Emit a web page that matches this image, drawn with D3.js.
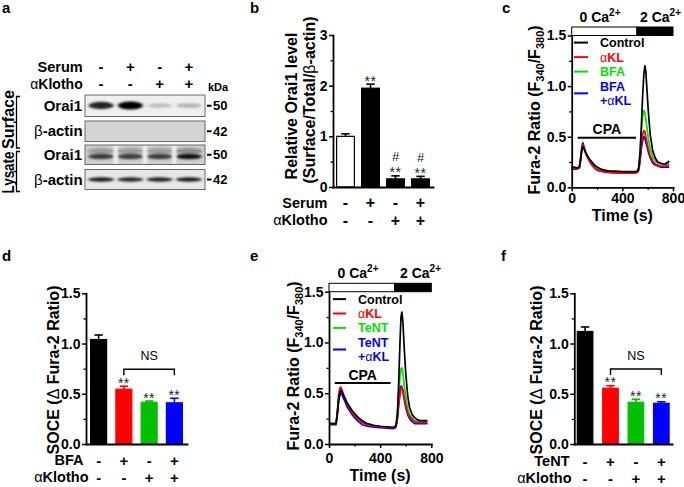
<!DOCTYPE html>
<html><head><meta charset="utf-8">
<script src="https://cdn.jsdelivr.net/npm/d3@7"></script>
<style>
body{margin:0;background:#fff;}
svg{display:block;font-family:"Liberation Sans",Arial,Helvetica,sans-serif;}
</style></head><body>
<svg id="fig" width="684" height="487"></svg>
<script>
// ================= DATA =================
const lanes = ["L1","L2","L3","L4"];
const serumSigns = ["-","+","-","+"];
const klothoSigns = ["-","-","+","+"];
const bfaSigns = ["-","+","-","+"];
const tentSigns = ["-","+","-","+"];
const blotRows = ["Orai1","β-actin","Orai1","β-actin"];
const kdaMarks = ["50","42","50","42"];
const surfaceOrai1Band = [0.85, 1.0, 0.2, 0.25];
const lysateOrai1Band = [0.72, 0.7, 0.7, 0.92];
const lysateActinBand = [0.88, 0.82, 0.85, 0.88];

const bMeans = [1.0, 1.95, 0.16, 0.16];
const bErrs = [0.05, 0.08, 0.06, 0.05];
const bStars = ["", "**", "**", "**"];
const bHash = ["", "", "#", "#"];
const bTicks = [0, 1, 2, 3];
const bMinor = [0.5, 1.5, 2.5];

const socTicks = [0, 0.5, 1.0, 1.5];
const socMinor = [0.25, 0.75, 1.25];
const dMeans = [1.04, 0.545, 0.415, 0.41];
const dErrs = [0.045, 0.03, 0.013, 0.045];
const dStars = ["", "**", "**", "**"];
const fMeans = [1.12, 0.555, 0.415, 0.405];
const fErrs = [0.045, 0.025, 0.03, 0.015];
const fStars = ["", "**", "**", "**"];
const barColors = ["#000000", "#ff0000", "#00c000", "#0000ff"];

const traceTicksY = [0, 0.5, 1.0, 1.5];
const traceMinorY = [0.25, 0.75, 1.25];
const traceTicksX = [0, 400, 800];
const traceMinorX = [200, 600];

const cTime = [0,20,40,60,70,80,88,95,105,120,140,160,180,200,230,260,300,350,400,450,500,520,530,540,550,560,570,578,585,595,605,620,640,660,680,700,720,740,760,770];
const cControl = [0.20,0.20,0.19,0.20,0.27,0.37,0.40,0.39,0.36,0.32,0.28,0.25,0.22,0.20,0.18,0.17,0.16,0.16,0.155,0.155,0.155,0.16,0.2,0.35,0.6,0.9,1.12,1.2,1.15,0.95,0.75,0.52,0.36,0.29,0.25,0.24,0.23,0.23,0.25,0.26];
const cAKL = [0.19,0.19,0.18,0.19,0.27,0.38,0.42,0.40,0.36,0.31,0.26,0.22,0.19,0.17,0.16,0.15,0.145,0.14,0.14,0.14,0.14,0.15,0.18,0.28,0.42,0.52,0.56,0.55,0.50,0.44,0.38,0.31,0.26,0.23,0.22,0.21,0.21,0.21,0.22,0.22];
const cBFA = [0.19,0.19,0.19,0.19,0.26,0.37,0.40,0.39,0.35,0.31,0.27,0.24,0.21,0.19,0.17,0.165,0.155,0.15,0.15,0.15,0.15,0.155,0.2,0.33,0.55,0.7,0.76,0.74,0.68,0.58,0.48,0.38,0.3,0.26,0.24,0.23,0.23,0.23,0.24,0.24];
const cBFAaKL = [0.18,0.18,0.18,0.19,0.28,0.40,0.44,0.41,0.36,0.31,0.26,0.22,0.19,0.17,0.16,0.155,0.15,0.145,0.145,0.145,0.145,0.15,0.17,0.26,0.38,0.46,0.50,0.49,0.45,0.40,0.35,0.29,0.24,0.22,0.21,0.2,0.2,0.2,0.2,0.2];
const cLegend = ["Control", "αKL", "BFA", "BFA|+αKL"];

const eTime = [0,20,40,55,65,75,85,92,100,110,125,140,160,180,200,230,260,300,350,400,450,500,515,525,535,545,555,563,570,578,588,600,615,630,650,670,690,710,730,750,770];
const eControl = [0.2,0.2,0.2,0.2,0.3,0.44,0.51,0.53,0.52,0.49,0.45,0.41,0.37,0.33,0.3,0.26,0.23,0.2,0.185,0.175,0.17,0.165,0.17,0.19,0.3,0.6,1.0,1.25,1.3,1.2,0.95,0.7,0.48,0.36,0.29,0.26,0.24,0.23,0.23,0.23,0.23];
const eAKL = [0.2,0.2,0.2,0.2,0.32,0.48,0.55,0.56,0.54,0.5,0.45,0.4,0.35,0.31,0.28,0.24,0.21,0.19,0.175,0.17,0.165,0.16,0.165,0.18,0.25,0.38,0.48,0.54,0.56,0.53,0.46,0.38,0.31,0.27,0.24,0.22,0.21,0.21,0.21,0.21,0.21];
const eTeNT = [0.2,0.2,0.2,0.2,0.3,0.43,0.5,0.52,0.51,0.48,0.44,0.4,0.36,0.32,0.29,0.25,0.22,0.195,0.18,0.17,0.165,0.16,0.165,0.19,0.3,0.5,0.66,0.74,0.75,0.7,0.58,0.46,0.35,0.29,0.26,0.23,0.22,0.22,0.22,0.22,0.22];
const eTeNTaKL = [0.19,0.19,0.19,0.19,0.28,0.42,0.48,0.5,0.49,0.46,0.42,0.37,0.33,0.29,0.26,0.22,0.19,0.175,0.165,0.16,0.155,0.15,0.155,0.17,0.25,0.4,0.52,0.57,0.56,0.52,0.44,0.36,0.29,0.25,0.22,0.2,0.2,0.2,0.2,0.2,0.2];
const eLegend = ["Control", "αKL", "TeNT", "TeNT|+αKL"];
const traceColors = ["#000000", "#ff0000", "#00e400", "#0000ff"];
const cCPA = [47, 508, 0.49];
const eCPA = [45, 482, 0.6];
const caSwitch = 515;
const caSwitchE = 513;

// ================= DRAWING =================
const FONT = '"Liberation Sans", Arial, Helvetica, sans-serif';
const svg = d3.select("#fig");
svg.append("rect").attr("width",684).attr("height",487).attr("fill","#fff");
const defs = svg.append("defs");
defs.append("filter").attr("id","blur").attr("x","-50%").attr("y","-100%").attr("width","200%").attr("height","300%")
  .append("feGaussianBlur").attr("stdDeviation","1.4 1.0");

function T(g, x, y, s, o = {}) {
  return g.append("text").attr("x", x).attr("y", y).text(s)
    .attr("font-size", o.size || 14).attr("font-weight", o.weight || "bold")
    .attr("text-anchor", o.anchor || "start").attr("fill", o.fill || "#000")
    .attr("font-family", FONT);
}
function alphaText(g, x, y, rest, o = {}) {
  const t = g.append("text").attr("x", x).attr("y", y)
    .attr("font-size", o.size || 14).attr("font-weight", "bold")
    .attr("text-anchor", o.anchor || "start").attr("fill", o.fill || "#000").attr("font-family", FONT);
  if (o.prefix) t.append("tspan").text(o.prefix);
  t.append("tspan").attr("font-weight", "normal").text("α");
  t.append("tspan").text(rest);
  return t;
}
function styleAxis(a, size) {
  a.attr("font-family", FONT).attr("font-size", size);
  a.select(".domain").attr("stroke-width", 1.8).attr("stroke-linecap", "square");
  a.selectAll(".tick line").attr("stroke-width", 1.5);
  a.selectAll(".tick text").attr("font-weight", "bold").attr("fill", "#000").attr("font-size", size);
}
function signRow(g, xs, yb, signs, size) {
  signs.forEach((s, i) => T(g, xs[i], yb + 1, s, { size: size, anchor: "middle" }));
}
const fmt1 = d3.format(".1f");

// panel letters
[["a",2,13],["b",250,13],["c",502,13],["d",2,261],["e",250,261],["f",501,261]]
  .forEach(p => T(svg, p[1], p[2], p[0], { size: 15 }));

// ---------- Panel a: western blot ----------
(function () {
  const g = svg.append("g");
  const x = d3.scaleBand().domain(lanes).range([85, 205]).padding(0.1);
  const lx = i => x(lanes[i]) + x.bandwidth() / 2;
  const xs = lanes.map((l, i) => lx(i));
  T(g, 82.7, 71.7, "Serum", { size: 14.5, anchor: "end" });
  alphaText(g, 82.7, 88.5, "Klotho", { size: 14, anchor: "end" });
  signRow(g, xs, 71, serumSigns, 15);
  signRow(g, xs, 88, klothoSigns, 15);
  T(g, 208, 91, "kDa", { size: 11 });

  const boxes = [
    { y: 95, h: 21.5, fill: "#efefef" },
    { y: 121, h: 20.5, fill: "#d4d4d4" },
    { y: 145, h: 19.5, fill: "#cfcfcf" },
    { y: 169.5, h: 20, fill: "#e6e6e6" }
  ];
  boxes.forEach((b, k) => {
    const cid = "clip" + k;
    defs.append("clipPath").attr("id", cid).append("rect").attr("x", 85).attr("y", b.y).attr("width", 120).attr("height", b.h);
    const bg = g.append("g").attr("clip-path", `url(#${cid})`);
    bg.append("rect").attr("x", 85).attr("y", b.y).attr("width", 120).attr("height", b.h).attr("fill", b.fill);
    if (k === 0) {
      surfaceOrai1Band.forEach((v, i) => {
        bg.append("ellipse").attr("cx", lx(i)).attr("cy", 105.5).attr("rx", 12.5).attr("ry", 1.8 + 2.2 * v)
          .attr("fill", "#000").attr("opacity", v).attr("filter", "url(#blur)");
      });
    }
    if (k === 2) {
      lysateOrai1Band.forEach((v, i) => {
        bg.append("ellipse").attr("cx", lx(i)).attr("cy", 151).attr("rx", 14).attr("ry", 3)
          .attr("fill", "#555").attr("opacity", v * 0.6).attr("filter", "url(#blur)");
        bg.append("ellipse").attr("cx", lx(i)).attr("cy", 156.5).attr("rx", 13).attr("ry", 2.8)
          .attr("fill", "#000").attr("opacity", v).attr("filter", "url(#blur)");
      });
      [0, 1, 2].forEach(i => {
        bg.append("rect").attr("x", (lx(i) + lx(i + 1)) / 2 - 1.6).attr("y", b.y).attr("width", 3.2).attr("height", b.h)
          .attr("fill", "#fbfbfb").attr("filter", "url(#blur)");
      });
    }
    if (k === 3) {
      lysateActinBand.forEach((v, i) => {
        bg.append("ellipse").attr("cx", lx(i)).attr("cy", 179.5).attr("rx", 13).attr("ry", 2.2)
          .attr("fill", "#000").attr("opacity", v).attr("filter", "url(#blur)");
      });
    }
    g.append("rect").attr("x", 85).attr("y", b.y).attr("width", 120).attr("height", b.h)
      .attr("fill", "none").attr("stroke", "#6a6a6a").attr("stroke-width", 1);
    const cy = b.y + b.h / 2;
    if (blotRows[k] === "β-actin") {
      const t = g.append("text").attr("x", 82.7).attr("y", cy + 5.2).attr("text-anchor", "end")
        .attr("font-size", 15).attr("font-weight", "bold").attr("font-family", FONT);
      t.append("tspan").attr("font-weight", "normal").text("β");
      t.append("tspan").text("-actin");
    } else {
      T(g, 82, cy + 5.2, blotRows[k], { size: 15, anchor: "end" });
    }
    g.append("line").attr("x1", 207).attr("x2", 211.5).attr("y1", cy).attr("y2", cy).attr("stroke", "#000").attr("stroke-width", 2);
    T(g, 213, cy + 4.6, kdaMarks[k], { size: 13 });
  });
  [["Surface", 119.5, 96.5, 148, 59], ["Lysate", 172.5, 151.5, 191.5, 42]].forEach(s => {
    T(g, 0, 0, s[0], { size: 16, anchor: "middle" }).attr("transform", `translate(13.5,${s[1]}) rotate(-90)`)
      .attr("textLength", s[4]).attr("lengthAdjust", "spacingAndGlyphs");
    g.append("path").attr("d", `M20,${s[2]}H16.5V${s[3]}H20M16.5,${(s[2] + s[3]) / 2}H13.5`)
      .attr("fill", "none").attr("stroke", "#000").attr("stroke-width", 1.3);
  });
})();

// ---------- bar chart helper ----------
function barChart(o) {
  const g = svg.append("g");
  const y = d3.scaleLinear().domain([0, o.ymax]).range([o.y0, o.y1]);
  const x = d3.scaleBand().domain(lanes).range(o.xr).paddingInner(o.pi).paddingOuter(o.po);
  const cx = i => x(lanes[i]) + x.bandwidth() / 2;
  o.means.forEach((m, i) => {
    const top = y(m + o.errs[i]);
    g.append("line").attr("x1", cx(i)).attr("x2", cx(i)).attr("y1", y(m)).attr("y2", top).attr("stroke", o.strokes[i]).attr("stroke-width", 1.6);
    g.append("line").attr("x1", cx(i) - 4.2).attr("x2", cx(i) + 4.2).attr("y1", top).attr("y2", top).attr("stroke", o.strokes[i]).attr("stroke-width", 1.6);
  });
  g.selectAll("rect.bar").data(o.means).join("rect").attr("class", "bar")
    .attr("x", (d, i) => x(lanes[i]) + 0.6).attr("width", x.bandwidth() - 1.2)
    .attr("y", d => y(d)).attr("height", d => y(0) - y(d))
    .attr("fill", (d, i) => o.fills[i]).attr("stroke", (d, i) => o.strokes[i]).attr("stroke-width", 1.2);
  const ya = g.append("g").attr("transform", `translate(${o.xr[0]},0)`)
    .call(d3.axisLeft(y).tickValues(o.ticks).tickFormat(o.fmt).tickSize(4).tickPadding(1.5).tickSizeOuter(0));
  styleAxis(ya, 14);
  const ym = g.append("g").attr("transform", `translate(${o.xr[0]},0)`)
    .call(d3.axisLeft(y).tickValues(o.minor).tickFormat("").tickSize(2.5));
  ym.select(".domain").remove(); ym.selectAll("line").attr("stroke-width", 1.3);
  const xa = g.append("g").attr("transform", `translate(0,${o.y0})`)
    .call(d3.axisBottom(x).tickSize(0).tickFormat("").tickSizeOuter(0));
  xa.select(".domain").attr("stroke-width", 1.8).attr("stroke-linecap", "square");
  o.stars.forEach((s, i) => {
    if (!s) return;
    T(g, cx(i), y(o.means[i] + o.errs[i]) + 1.5, s, { size: 14, weight: "normal", anchor: "middle", fill: "#222" })
      .attr("letter-spacing", 0.5);
  });
  if (o.hash) o.hash.forEach((s, i) => {
    if (!s) return;
    T(g, cx(i), y(o.means[i] + o.errs[i]) - 14.8, s, { size: 13, weight: "normal", anchor: "middle", fill: "#222" });
  });
  if (o.ns) {
    const yb = o.ns;
    g.append("path").attr("d", `M${cx(1)},${yb + 6}V${yb}H${cx(3)}V${yb + 6}`)
      .attr("fill", "none").attr("stroke", "#000").attr("stroke-width", 1.4);
    T(g, (cx(1) + cx(3)) / 2, yb - 9, "NS", { size: 12.5, weight: "normal", anchor: "middle" });
  }
  return { g, x, y, cx };
}

// ---------- Panel b ----------
(function () {
  const r = barChart({ ymax: 3, y0: 187, y1: 35, xr: [333, 433], pi: 0.24, po: 0.12,
    means: bMeans, errs: bErrs, fills: ["#fff", "#000", "#000", "#000"], strokes: ["#000", "#000", "#000", "#000"],
    ticks: bTicks, minor: bMinor, fmt: d3.format("d"), stars: bStars, hash: bHash });
  const g = r.g;
  const xs = lanes.map((l, i) => r.cx(i));
  T(g, 327.5, 207.5, "Serum", { size: 14.5, anchor: "end" });
  alphaText(g, 327.5, 225, "Klotho", { size: 14.5, anchor: "end" });
  signRow(g, xs, 207, serumSigns, 16);
  signRow(g, xs, 224.5, klothoSigns, 16);
  T(g, 0, 0, "Relative Orai1 level", { size: 16, anchor: "middle" }).attr("transform", "translate(296.5,106) rotate(-90)");
  const t = g.append("text").attr("transform", "translate(314.5,100) rotate(-90)").attr("text-anchor", "middle")
    .attr("font-size", 16).attr("font-weight", "bold").attr("font-family", FONT);
  t.append("tspan").text("(Surface/Total/");
  t.append("tspan").attr("font-weight", "normal").text("β");
  t.append("tspan").text("-actin)");
})();

// ---------- trace helper ----------
function tracePanel(o) {
  const g = svg.append("g");
  const x = d3.scaleLinear().domain([0, 800]).range(o.xr);
  const y = d3.scaleLinear().domain([0, 1.5]).range([o.y0, o.y1]);
  g.append("rect").attr("x", x(0)).attr("y", o.barY).attr("width", x(o.sw) - x(0)).attr("height", o.y1 - o.barY)
    .attr("fill", "#fff").attr("stroke", "#000").attr("stroke-width", 1);
  g.append("rect").attr("x", x(o.sw)).attr("y", o.barY).attr("width", x(800) - x(o.sw)).attr("height", o.y1 - o.barY)
    .attr("fill", "#000").attr("stroke", "#000").attr("stroke-width", 1);
  [["0 Ca", o.lab0], ["2 Ca", o.lab2]].forEach(l => {
    const t = g.append("text").attr("x", l[1]).attr("y", o.labY).attr("text-anchor", "middle")
      .attr("font-size", 14).attr("font-weight", "bold").attr("font-family", FONT);
    t.append("tspan").text(l[0]);
    t.append("tspan").attr("font-size", 10).attr("dy", -6).text("2+");
  });
  const order = [2, 3, 1, 0];
  order.forEach(k => {
    const vals = o.series[k];
    const line = d3.line().x((d, i) => x(o.time[i])).y(d => y(d));
    g.append("path").attr("d", line(vals)).attr("fill", "none").attr("stroke", traceColors[k])
      .attr("stroke-width", 1.7).attr("stroke-linejoin", "round");
  });
  g.append("line").attr("x1", x(o.cpa[0])).attr("x2", x(o.cpa[1])).attr("y1", y(o.cpa[2])).attr("y2", y(o.cpa[2]))
    .attr("stroke", "#000").attr("stroke-width", 2);
  T(g, (x(o.cpa[0]) + x(o.cpa[1])) / 2, y(o.cpa[2]) - 3.5, "CPA", { size: 14, anchor: "middle" });
  let row = 0;
  o.legend.forEach((lab, k) => {
    const parts = lab.split("|");
    const ly = o.legY + row * o.legStep;
    const lineY = parts.length > 1 ? ly - 4.4 + o.legStep / 2 : ly - 4.4;
    g.append("line").attr("x1", o.legX1).attr("x2", o.legX2).attr("y1", lineY).attr("y2", lineY)
      .attr("stroke", traceColors[k]).attr("stroke-width", 2);
    parts.forEach((p, j) => {
      const yy = o.legY + (row + j) * o.legStep;
      if (p.indexOf("α") >= 0) {
        alphaText(g, o.legTX, yy, "KL", { size: 12.5, fill: traceColors[k], prefix: p.startsWith("+") ? "+" : "" });
      } else {
        T(g, o.legTX, yy, p, { size: 12.5, fill: traceColors[k] });
      }
    });
    row += parts.length;
  });
  const ya = g.append("g").attr("transform", `translate(${o.xr[0]},0)`)
    .call(d3.axisLeft(y).tickValues(traceTicksY).tickFormat(fmt1).tickSize(4).tickPadding(1.5).tickSizeOuter(0));
  styleAxis(ya, 14);
  const ym = g.append("g").attr("transform", `translate(${o.xr[0]},0)`)
    .call(d3.axisLeft(y).tickValues(traceMinorY).tickFormat("").tickSize(2.5));
  ym.select(".domain").remove(); ym.selectAll("line").attr("stroke-width", 1.3);
  const xa = g.append("g").attr("transform", `translate(0,${o.y0})`)
    .call(d3.axisBottom(x).tickValues(traceTicksX).tickFormat(d3.format("d")).tickSize(4).tickPadding(o.xpad).tickSizeOuter(0));
  styleAxis(xa, 14);
  const xm = g.append("g").attr("transform", `translate(0,${o.y0})`)
    .call(d3.axisBottom(x).tickValues(traceMinorX).tickFormat("").tickSize(2.5));
  xm.select(".domain").remove(); xm.selectAll("line").attr("stroke-width", 1.3);
  T(g, (o.xr[0] + o.xr[1]) / 2, o.timeY, "Time (s)", { size: 16, anchor: "middle" });
  const t = g.append("text").attr("transform", `translate(${o.titleX},${o.titleY}) rotate(-90)`).attr("text-anchor", "middle")
    .attr("font-size", 16).attr("font-weight", "bold").attr("font-family", FONT);
  t.append("tspan").text("Fura-2 Ratio (F");
  t.append("tspan").attr("font-size", 11).attr("dy", 4).text("340");
  t.append("tspan").attr("dy", -4).text("/F");
  t.append("tspan").attr("font-size", 11).attr("dy", 4).text("380");
  t.append("tspan").attr("dy", -4).text(")");
  return g;
}

// ---------- Panel c ----------
tracePanel({ xr: [571.7, 673], y0: 187.3, y1: 35.5, barY: 27, sw: caSwitch, lab0: 600, lab2: 660.5, labY: 21.5,
  time: cTime, series: [cControl, cAKL, cBFA, cBFAaKL], cpa: cCPA, legend: cLegend,
  legY: 47, legStep: 14.5, legX1: 574, legX2: 588, legTX: 600, xpad: 2, timeY: 221, titleX: 540, titleY: 110 });

// ---------- Panel e ----------
tracePanel({ xr: [329, 431.3], y0: 444, y1: 291.7, barY: 283.3, sw: caSwitchE, lab0: 358, lab2: 420.5, labY: 278,
  time: eTime, series: [eControl, eAKL, eTeNT, eTeNTaKL], cpa: eCPA, legend: eLegend,
  legY: 303.5, legStep: 14.4, legX1: 333, legX2: 346, legTX: 358, xpad: 5, timeY: 481, titleX: 299, titleY: 366 });

// ---------- Panels d, f ----------
function socTitle(x, y) {
  const t = svg.append("text").attr("transform", `translate(${x},${y}) rotate(-90)`).attr("text-anchor", "middle")
    .attr("font-size", 16).attr("font-weight", "bold").attr("font-family", FONT);
  t.append("tspan").text("SOCE (");
  t.append("tspan").attr("font-weight", "normal").text("Δ");
  t.append("tspan").text(" Fura-2 Ratio)");
}
(function () {
  const r = barChart({ ymax: 1.5, y0: 444, y1: 293.3, xr: [86, 187], pi: 0.32, po: 0.16,
    means: dMeans, errs: dErrs, fills: barColors, strokes: barColors,
    ticks: socTicks, minor: socMinor, fmt: fmt1, stars: dStars, ns: 369.3 });
  const xs = lanes.map((l, i) => r.cx(i));
  T(r.g, 83.5, 465, "BFA", { size: 14.5, anchor: "end" });
  alphaText(r.g, 88.5, 482, "Klotho", { size: 14.5, anchor: "end" });
  signRow(r.g, xs, 465, bfaSigns, 15);
  signRow(r.g, xs, 482, klothoSigns, 15);
  socTitle(59, 370);
})();
(function () {
  const r = barChart({ ymax: 1.5, y0: 444, y1: 293.3, xr: [574.3, 672.1], pi: 0.34, po: 0.094,
    means: fMeans, errs: fErrs, fills: barColors, strokes: barColors,
    ticks: socTicks, minor: socMinor, fmt: fmt1, stars: fStars, ns: 369 });
  const xs = lanes.map((l, i) => r.cx(i));
  T(r.g, 569.5, 466, "TeNT", { size: 14.5, anchor: "end" });
  alphaText(r.g, 571.5, 482.5, "Klotho", { size: 14.5, anchor: "end" });
  signRow(r.g, xs, 466, tentSigns, 15);
  signRow(r.g, xs, 482.5, klothoSigns, 15);
  socTitle(541.5, 370);
})();
</script>
</body></html>
